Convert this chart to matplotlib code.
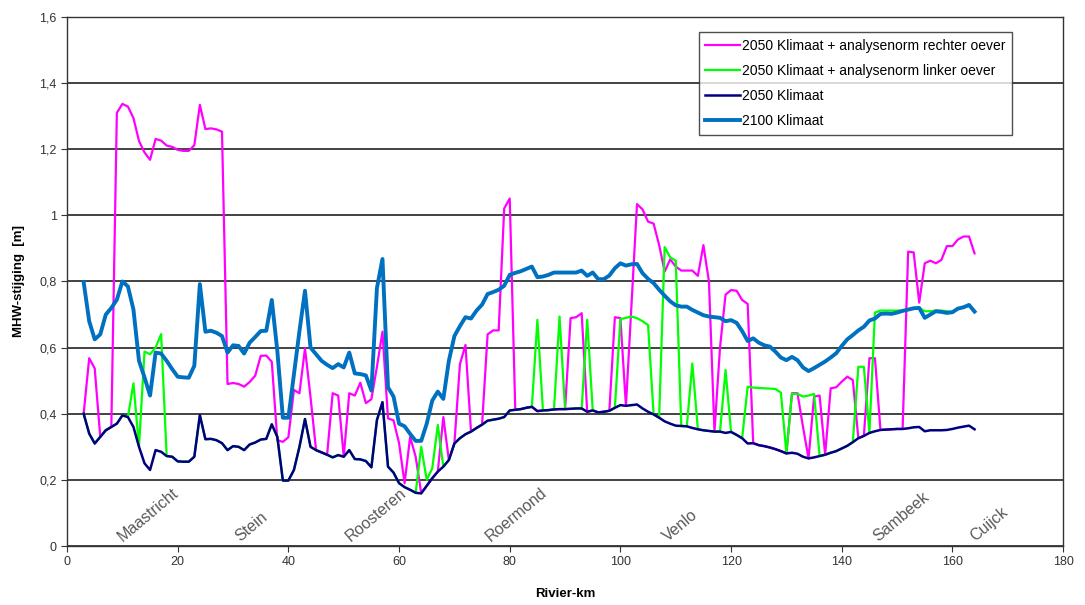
import matplotlib.pyplot as plt
from matplotlib.ticker import FuncFormatter

# Rivier-km 3 .. 164, one point per km
km = list(range(3, 165))

# 2050 Klimaat (base)
klimaat_2050 = [
    0.40, 0.34, 0.31, 0.33, 0.35, 0.36, 0.37, 0.395, 0.39, 0.36,        # 3-12
    0.30, 0.25, 0.23, 0.29, 0.285, 0.272, 0.27, 0.256, 0.255, 0.255,    # 13-22
    0.27, 0.396, 0.323, 0.324, 0.32, 0.311, 0.29, 0.302, 0.30, 0.29,    # 23-32
    0.307, 0.313, 0.322, 0.324, 0.368, 0.33, 0.198, 0.198, 0.23, 0.30,  # 33-42
    0.384, 0.30, 0.29, 0.283, 0.276, 0.268, 0.275, 0.27, 0.29, 0.263,   # 43-52
    0.262, 0.257, 0.238, 0.381, 0.435, 0.24, 0.222, 0.19, 0.178, 0.17,  # 53-62
    0.161, 0.159, 0.182, 0.205, 0.225, 0.24, 0.26, 0.31, 0.326, 0.338,  # 63-72
    0.346, 0.357, 0.367, 0.379, 0.382, 0.385, 0.39, 0.41, 0.412, 0.414, # 73-82
    0.418, 0.421, 0.408, 0.41, 0.411, 0.413, 0.414, 0.414, 0.415, 0.416,  # 83-92
    0.416, 0.406, 0.41, 0.404, 0.406, 0.409, 0.418, 0.426, 0.424, 0.426,  # 93-102
    0.428, 0.416, 0.406, 0.398, 0.388, 0.377, 0.37, 0.364, 0.363, 0.362,  # 103-112
    0.357, 0.353, 0.35, 0.348, 0.346, 0.346, 0.342, 0.345, 0.336, 0.326,  # 113-122
    0.31, 0.311, 0.305, 0.302, 0.298, 0.293, 0.287, 0.28, 0.282, 0.279,   # 123-132
    0.27, 0.265, 0.268, 0.272, 0.276, 0.282, 0.287, 0.295, 0.303, 0.314,  # 133-142
    0.326, 0.333, 0.342, 0.347, 0.351, 0.352, 0.353, 0.354, 0.354, 0.356,  # 143-152
    0.359, 0.36, 0.347, 0.35, 0.35, 0.35, 0.351, 0.354, 0.358, 0.361,     # 153-162
    0.364, 0.353,                                                         # 163-164
]

# 2100 Klimaat
klimaat_2100 = [
    0.798, 0.68, 0.625, 0.64, 0.70, 0.72, 0.745, 0.80, 0.785, 0.715,     # 3-12
    0.56, 0.51, 0.455, 0.585, 0.582, 0.56, 0.535, 0.512, 0.51, 0.509,    # 13-22
    0.545, 0.792, 0.648, 0.651, 0.645, 0.635, 0.585, 0.607, 0.605, 0.582,  # 23-32
    0.615, 0.632, 0.65, 0.651, 0.744, 0.59, 0.388, 0.388, 0.52, 0.65,    # 33-42
    0.772, 0.60, 0.58, 0.56, 0.548, 0.538, 0.55, 0.54, 0.585, 0.522,     # 43-52
    0.52, 0.516, 0.47, 0.78, 0.868, 0.48, 0.452, 0.37, 0.362, 0.339,     # 53-62
    0.318, 0.318, 0.37, 0.44, 0.467, 0.445, 0.56, 0.635, 0.665, 0.692,   # 63-72
    0.688, 0.712, 0.73, 0.762, 0.768, 0.775, 0.787, 0.82, 0.826, 0.831,  # 73-82
    0.838, 0.845, 0.813, 0.815, 0.82, 0.827, 0.827, 0.827, 0.827, 0.827,  # 83-92
    0.833, 0.817, 0.827, 0.807, 0.807, 0.818, 0.84, 0.855, 0.848, 0.852,  # 93-102
    0.853, 0.825, 0.808, 0.795, 0.775, 0.757, 0.74, 0.728, 0.724, 0.724,  # 103-112
    0.714, 0.706, 0.698, 0.694, 0.692, 0.69, 0.68, 0.683, 0.675, 0.65,    # 113-122
    0.62, 0.628, 0.615, 0.607, 0.603, 0.588, 0.57, 0.562, 0.572, 0.562,   # 123-132
    0.54, 0.529, 0.538, 0.548, 0.558, 0.57, 0.583, 0.605, 0.625, 0.638,   # 133-142
    0.652, 0.663, 0.682, 0.688, 0.702, 0.703, 0.702, 0.706, 0.711, 0.715,  # 143-152
    0.719, 0.72, 0.69, 0.70, 0.71, 0.708, 0.705, 0.707, 0.718, 0.722,     # 153-162
    0.729, 0.709,                                                         # 163-164
]

# None = line lies on the 2050 Klimaat line
rechter_oever_raw = [
    None, 0.568, 0.537, None, None, None, 1.31, 1.337, 1.329, 1.294,     # 3-12
    1.225, 1.19, 1.168, 1.231, 1.226, 1.211, 1.207, 1.198, 1.195, 1.195,  # 13-22
    1.212, 1.334, 1.261, 1.263, 1.26, 1.253, 0.49, 0.493, 0.49, 0.482,   # 23-32
    0.496, 0.515, 0.575, 0.576, 0.557, 0.32, 0.315, 0.329, 0.472, 0.462,  # 33-42
    0.598, 0.45, None, None, None, 0.462, 0.455, None, 0.462, 0.455,     # 43-52
    0.494, 0.432, 0.444, 0.542, 0.648, 0.386, 0.38, 0.311, 0.19, 0.33,   # 53-62
    0.27, 0.16, None, None, None, 0.39, None, None, 0.55, 0.608,         # 63-72
    None, None, None, 0.64, 0.652, 0.652, 1.021, 1.051, None, None,      # 73-82
    None, None, None, None, None, None, None, None, 0.689, 0.692,        # 83-92
    0.704, None, None, None, None, None, 0.692, 0.689, None, 0.73,       # 93-102
    1.034, 1.018, 0.981, 0.975, 0.91, 0.83, 0.867, 0.845, 0.833, 0.833,  # 103-112
    0.833, 0.817, 0.91, 0.80, None, 0.60, 0.76, 0.774, 0.772, 0.744,     # 113-122
    0.732, None, None, None, None, None, None, None, 0.462, 0.462,       # 123-132
    0.36, None, 0.452, 0.455, None, 0.477, 0.48, 0.497, 0.512, 0.502,    # 133-142
    None, None, 0.568, 0.568, None, None, None, None, None, 0.89,        # 143-152
    0.888, 0.736, 0.855, 0.863, 0.855, 0.865, 0.907, 0.907, 0.927, 0.936,  # 153-162
    0.936, 0.885,                                                        # 163-164
]

linker_oever_raw = [
    None, None, None, None, None, None, None, None, None, 0.492,         # 3-12
    None, 0.588, 0.58, 0.60, 0.641, None, None, None, None, None,        # 13-22
    None, None, None, None, None, None, None, None, None, None,          # 23-32
    None, None, None, None, None, None, None, None, None, None,          # 33-42
    None, None, None, None, None, None, None, None, None, None,          # 43-52
    None, None, None, None, None, None, None, None, None, None,          # 53-62
    None, 0.30, 0.20, 0.235, 0.366, None, None, None, None, None,        # 63-72
    None, None, None, None, None, None, None, None, None, None,          # 73-82
    None, None, 0.684, None, None, None, 0.694, None, None, None,        # 83-92
    None, 0.684, None, None, None, None, None, 0.686, 0.69, 0.694,       # 93-102
    0.689, 0.68, 0.668, None, None, 0.904, 0.873, 0.863, None, None,     # 103-112
    0.552, None, None, None, None, None, 0.532, None, None, None,        # 113-122
    0.482, 0.479, 0.478, 0.477, 0.476, 0.475, 0.464, None, 0.46, 0.46,   # 123-132
    0.452, 0.455, 0.46, None, None, None, None, None, None, None,        # 133-142
    0.542, 0.542, None, 0.706, 0.712, 0.712, 0.712, 0.712, 0.712, 0.715,  # 143-152
    0.718, 0.72, 0.71, 0.71, 0.712, 0.712, 0.71, 0.708, 0.718, 0.722,    # 153-162
    0.729, 0.709,                                                        # 163-164
]

rechter_oever = [b if v is None else v for v, b in zip(rechter_oever_raw, klimaat_2050)]
linker_oever = [b if v is None else v for v, b in zip(linker_oever_raw, klimaat_2050)]

plaatsen = ["Maastricht", "Stein", "Roosteren", "Roermond", "Venlo", "Sambeek", "Cuijck"]
plaats_km = [10.5, 31.6, 51.7, 77.0, 109.0, 147.0, 164.4]

plt.rcParams['font.family'] = ['Liberation Sans', 'DejaVu Sans']

fig = plt.figure(figsize=(10.85, 6.05), dpi=100)
ax = fig.add_axes([0.0618, 0.0975, 0.918, 0.8745])

ax.plot(km, rechter_oever, color='#FF00FF', lw=1.6,
        label='2050 Klimaat + analysenorm rechter oever')
ax.plot(km, linker_oever, color='#00FF00', lw=1.6,
        label='2050 Klimaat + analysenorm linker oever')
ax.plot(km, klimaat_2050, color='#000080', lw=1.8, label='2050 Klimaat')
ax.plot(km, klimaat_2100, color='#0070C0', lw=2.8, label='2100 Klimaat')

for naam, k in zip(plaatsen, plaats_km):
    ax.text(k, 0.005, naam, rotation=40, rotation_mode='anchor',
            ha='left', va='bottom', fontsize=11.5, color='#595959')

ax.set_xlim(0, 180)
ax.set_ylim(0, 1.6)
ax.set_xticks(range(0, 181, 20))
ax.set_yticks([i * 0.2 for i in range(9)])
ax.yaxis.set_major_formatter(FuncFormatter(lambda v, p: ('%g' % round(v, 1)).replace('.', ',')))
ax.tick_params(labelsize=9, colors='#333333', length=4)
ax.yaxis.grid(True, color='#222222', lw=1.2)
ax.set_axisbelow(True)
for s in ax.spines.values():
    s.set_color('#333333')
    s.set_linewidth(1.0)

ax.set_xlabel('Rivier-km', fontsize=9.5, fontweight='bold', labelpad=14)
ax.set_ylabel('MHW-stijging  [m]', fontsize=9.5, fontweight='bold', labelpad=10)

leg = ax.legend(loc='upper left', bbox_to_anchor=(0.634, 0.972), fontsize=10,
                frameon=True, fancybox=False, edgecolor='#222222',
                handlelength=2.5, handletextpad=0.1, borderpad=0.5,
                labelspacing=0.8, borderaxespad=0)
leg.get_frame().set_linewidth(1.0)

fig.savefig('out.png', dpi=100)
